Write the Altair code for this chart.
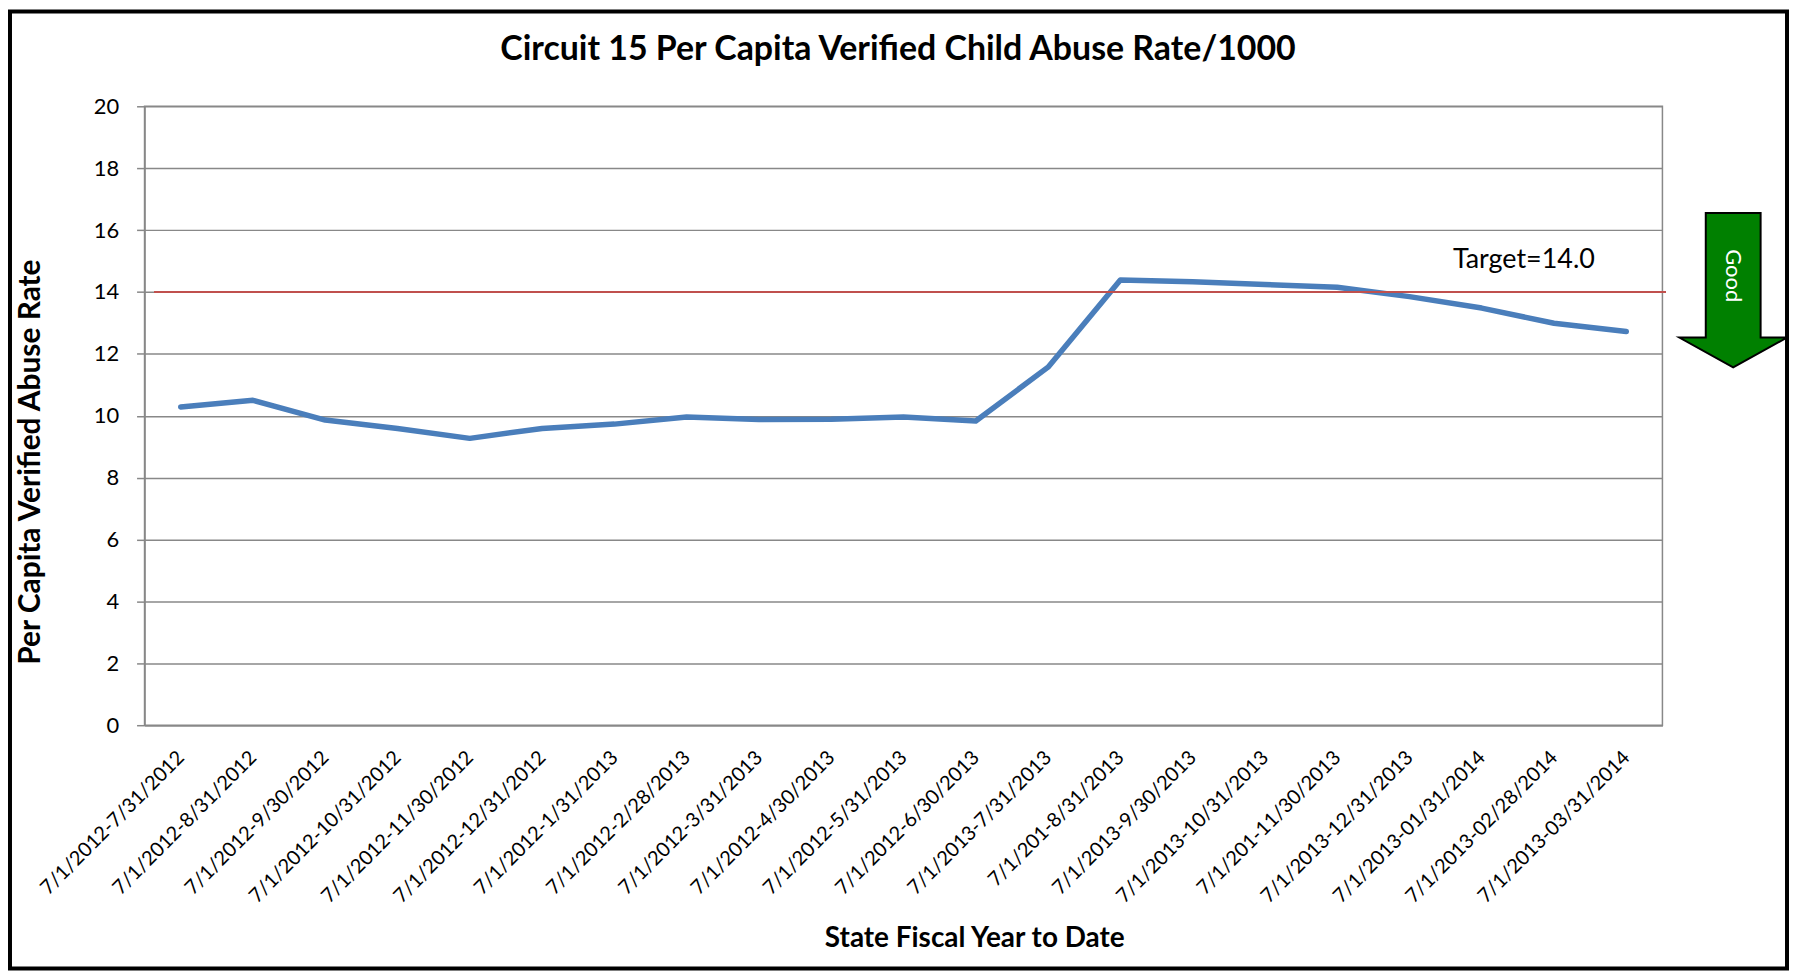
import altair as alt
import pandas as pd

# ---- data ----
periods = [
    "7/1/2012-7/31/2012", "7/1/2012-8/31/2012", "7/1/2012-9/30/2012",
    "7/1/2012-10/31/2012", "7/1/2012-11/30/2012", "7/1/2012-12/31/2012",
    "7/1/2012-1/31/2013", "7/1/2012-2/28/2013", "7/1/2012-3/31/2013",
    "7/1/2012-4/30/2013", "7/1/2012-5/31/2013", "7/1/2012-6/30/2013",
    "7/1/2013-7/31/2013", "7/1/201-8/31/2013", "7/1/2013-9/30/2013",
    "7/1/2013-10/31/2013", "7/1/201-11/30/2013", "7/1/2013-12/31/2013",
    "7/1/2013-01/31/2014", "7/1/2013-02/28/2014", "7/1/2013-03/31/2014",
]
rates = [10.28, 10.50, 9.86, 9.59, 9.27, 9.59, 9.73, 9.96, 9.88, 9.89, 9.96,
         9.83, 11.57, 14.39, 14.33, 14.24, 14.15, 13.85, 13.48, 12.99, 12.72]
target = 14.0
y_ticks = [0, 2, 4, 6, 8, 10, 12, 14, 16, 18, 20]

title_text = "Circuit 15 Per Capita Verified Child Abuse Rate/1000"
x_title = "State Fiscal Year to Date"
y_title = "Per Capita Verified Abuse Rate"
target_label = "Target=14.0"
arrow_label = "Good"

df = pd.DataFrame({"period": periods, "rate": rates})

W, H = 1523, 621
PAD = {"left": 137, "top": 97, "right": 127, "bottom": 246}
FONT = "Lato"
GRID = "#888888"

x_enc = alt.X(
    "period:N", sort=periods,
    scale=alt.Scale(type="point", padding=0.5),
    axis=alt.Axis(
        title=None, labelAngle=-45, labelAlign="right", labelBaseline="middle",
        labelFont=FONT, labelFontSize=20, labelColor="#000000", labelLimit=0,
        labelPadding=29, ticks=False, tickSize=0, labelOverlap=False,
        domainColor=GRID, domainWidth=1.5, grid=False,
    ),
)
y_enc = alt.Y(
    "rate:Q",
    scale=alt.Scale(domain=[0, 20], nice=False, zero=True),
    axis=alt.Axis(
        title=None, values=y_ticks, labelFont=FONT, labelFontSize=22,
        labelColor="#000000", tickSize=8, tickColor=GRID, tickWidth=1.5,
        labelPadding=18, grid=True, gridColor=GRID, gridWidth=1.5,
        domainColor=GRID, domainWidth=1.5,
    ),
)

line = alt.Chart(df).mark_line(
    color="#4a7ebb", strokeWidth=5.5, strokeCap="round", strokeJoin="round"
).encode(x=x_enc, y=y_enc)

target_rule = alt.Chart(df).mark_rule(color="#c0504d", strokeWidth=2).encode(
    y=alt.datum(target), x=alt.value(10), x2=alt.value(W + 3)
)

one = pd.DataFrame({"k": [0]})

def label(text, x, y, size, bold=False, angle=0, color="#000000"):
    return alt.Chart(one).mark_text(
        text=text, font=FONT, fontSize=size,
        fontWeight="bold" if bold else "normal", angle=angle,
        align="center", baseline="middle", color=color,
    ).encode(x=alt.value(x), y=alt.value(y))

title = label(title_text, 756, -56, 34, bold=True)
xt = label(x_title, 833, 836, 28, bold=True)
yt = label(y_title, -114, 357, 30, bold=True, angle=270)
tgt = label(target_label, 1384, 154, 27)

arrow_path = ("M -0.355 -1 L 0.355 -1 L 0.355 0.613 L 0.697 0.613 L 0 1 "
              "L -0.697 0.613 L -0.355 0.613 Z")
arrow = alt.Chart(one).mark_point(
    shape=arrow_path, size=155 * 155, filled=True, fill="#008000",
    stroke="#000000", strokeWidth=2, opacity=1, fillOpacity=1, strokeOpacity=1,
).encode(x=alt.value(1594), y=alt.value(184.5))
good = label(arrow_label, 1594, 170, 22, angle=90, color="#ffffff")

border = alt.Chart(one).mark_rect(
    fillOpacity=0, stroke="#000000", strokeWidth=4
).encode(
    x=alt.value(-135), x2=alt.value(W + PAD["right"] - 2),
    y=alt.value(-95), y2=alt.value(H + PAD["bottom"] - 2),
)

chart = alt.layer(
    line, target_rule, title, xt, yt, tgt, arrow, good, border
).properties(
    width=W, height=H, padding=PAD,
    autosize=alt.AutoSizeParams(type="none"),
    background="#ffffff",
).configure_view(
    stroke=GRID, strokeWidth=1.5
)

chart.save("out.html", embed_options={"renderer": "svg", "actions": False})
